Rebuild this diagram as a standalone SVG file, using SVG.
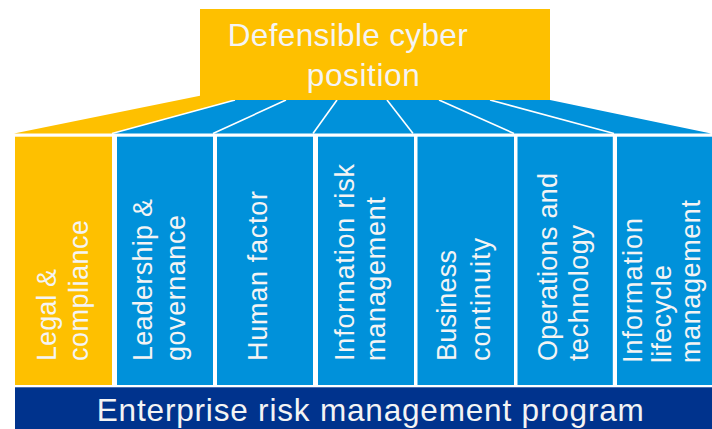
<svg xmlns="http://www.w3.org/2000/svg" width="712" height="429" viewBox="0 0 712 429">
<style>
.yel{fill:#FEC000}
.blu{fill:#0091DA}
.navy{fill:#00338D}
.div{stroke:#FFFFFF;stroke-width:1.6;fill:none}
.t{font-family:"Liberation Sans",Arial,sans-serif;fill:#F4F4F4}
.pt{font-size:27px}
.big{font-size:31.5px;text-anchor:middle}
</style>
<rect width="712" height="429" fill="#FFFFFF"/>
<g id="roof">
<polygon class="yel" points="14,133.5 200,95.7 235,100 112,133.5"/>
<polygon class="blu" points="112,133.5 235,100 550,100 711,133.5"/>
<line class="div" x1="112" y1="133.5" x2="235" y2="100"/>
<line class="div" x1="213" y1="133.5" x2="286" y2="100"/>
<line class="div" x1="313" y1="133.5" x2="337" y2="100"/>
<line class="div" x1="413" y1="133.5" x2="387" y2="100"/>
<line class="div" x1="514" y1="133.5" x2="439" y2="100"/>
<line class="div" x1="614" y1="133.5" x2="490" y2="100"/>
</g>
<g id="top">
<rect class="yel" x="200" y="9" width="350" height="91"/>
<text class="t big" x="347.7" y="45.5" textLength="240" lengthAdjust="spacing">Defensible cyber</text>
<text class="t big" x="363.3" y="86" textLength="113" lengthAdjust="spacing">position</text>
</g>
<g id="pillar-legal">
<rect class="yel" x="15" y="136.7" width="97" height="248.3"/>
<text class="t pt" transform="translate(55.5,361) rotate(-90)" textLength="92" lengthAdjust="spacing">Legal &amp;</text>
<text class="t pt" transform="translate(88,361) rotate(-90)" textLength="141" lengthAdjust="spacing">compliance</text>
</g>
<g id="pillar-leadership">
<rect class="blu" x="117" y="136.7" width="96" height="248.3"/>
<text class="t pt" transform="translate(152,361) rotate(-90)" textLength="162" lengthAdjust="spacing">Leadership &amp;</text>
<text class="t pt" transform="translate(184.5,361) rotate(-90)" textLength="146" lengthAdjust="spacing">governance</text>
</g>
<g id="pillar-human">
<rect class="blu" x="217" y="136.7" width="96" height="248.3"/>
<text class="t pt" transform="translate(266.7,361) rotate(-90)" textLength="170" lengthAdjust="spacing">Human factor</text>
</g>
<g id="pillar-inforisk">
<rect class="blu" x="318" y="136.7" width="96" height="248.3"/>
<text class="t pt" transform="translate(353.5,361) rotate(-90)" textLength="197" lengthAdjust="spacing">Information risk</text>
<text class="t pt" transform="translate(384.5,361) rotate(-90)" textLength="164" lengthAdjust="spacing">management</text>
</g>
<g id="pillar-business">
<rect class="blu" x="417.5" y="136.7" width="96.5" height="248.3"/>
<text class="t pt" transform="translate(455.7,361) rotate(-90)" textLength="111" lengthAdjust="spacing">Business</text>
<text class="t pt" transform="translate(489.5,361) rotate(-90)" textLength="123" lengthAdjust="spacing">continuity</text>
</g>
<g id="pillar-operations">
<rect class="blu" x="517.5" y="136.7" width="95.3" height="248.3"/>
<text class="t pt" transform="translate(556.7,361) rotate(-90)" textLength="188" lengthAdjust="spacing">Operations and</text>
<text class="t pt" transform="translate(588,361) rotate(-90)" textLength="136" lengthAdjust="spacing">technology</text>
</g>
<g id="pillar-lifecycle">
<rect class="blu" x="617" y="136.7" width="95" height="248.3"/>
<text class="t pt" transform="translate(641.7,363) rotate(-90)" textLength="145" lengthAdjust="spacing">Information</text>
<text class="t pt" transform="translate(671,363) rotate(-90)" textLength="98" lengthAdjust="spacing">lifecycle</text>
<text class="t pt" transform="translate(700,363) rotate(-90)" textLength="163" lengthAdjust="spacing">management</text>
</g>
<g id="base">
<rect class="navy" x="15" y="387.3" width="697" height="41.7"/>
<text class="t big" x="370.3" y="420.7" textLength="547" lengthAdjust="spacing">Enterprise risk management program</text>
</g>
</svg>
